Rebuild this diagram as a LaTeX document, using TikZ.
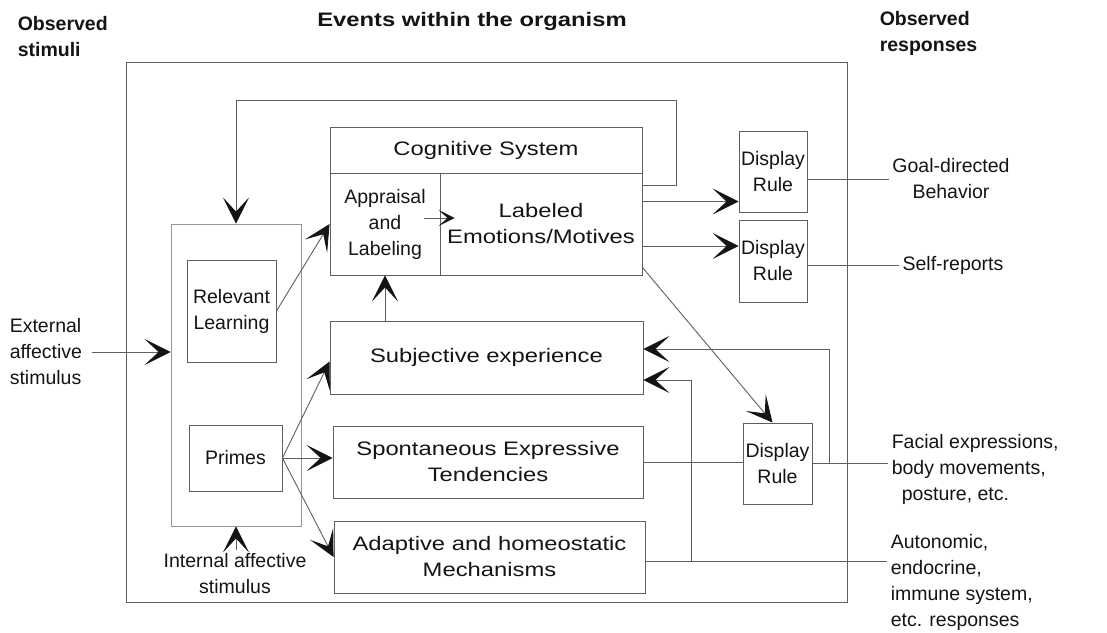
\documentclass[tikz,border=0pt]{standalone}
\usepackage{fontspec}
\setmainfont{Liberation Sans}
\usetikzlibrary{arrows.meta,positioning}
\definecolor{linegray}{RGB}{95,95,95}
\definecolor{palegray}{RGB}{150,150,150}
\definecolor{inkblack}{RGB}{20,20,20}
\newcommand{\boxfont}{\fontsize{19.5}{26}\selectfont}
\newcommand{\widefont}{\boxfont\addfontfeature{FakeStretch=1.22}}

\begin{document}
\begin{tikzpicture}[x=1pt, y=-1pt, line width=0.9pt,
  every node/.style={font=\boxfont, text=inkblack},
  blk/.style={draw=linegray, inner sep=0pt, align=center},
  wide/.style={font=\widefont},
  arr/.style={draw=linegray, -{Stealth[length=26pt,width=26pt,inset=14pt,color=inkblack]}},
  wire/.style={draw=linegray}]
  \useasboundingbox (0,0) rectangle (1107,632);
  % headings
  \node[font=\boxfont\bfseries, align=left, anchor=west] (obsstim) at (14,37) {Observed\\stimuli};
  \node[font=\widefont\bfseries] (events) at (472,21) {Events within the organism};
  \node[font=\boxfont\bfseries, align=left, anchor=west] (obsresp) at (876,33) {Observed\\responses};
  % organism frame
  \draw[linegray] (126,62) rectangle (847,602);
  % learning and primes
  \node[blk, draw=palegray, minimum width=130pt, minimum height=302pt] (learnbox) at (236,375) {};
  \node[blk, minimum width=89pt, minimum height=102pt] (relearn) at (231.5,311) {Relevant\\Learning};
  \node[blk, minimum width=93pt, minimum height=66pt] (primes) at (235.5,458) {Primes};
  % cognitive system
  \node[blk, wide, minimum width=312pt, minimum height=46pt] (cogsys) at (486,150) {Cognitive System};
  \node[blk, minimum width=110pt, minimum height=102pt] (appraisal) at (385,224) {Appraisal\\and\\Labeling};
  \node[blk, wide, minimum width=202pt, minimum height=102pt] (labeled) at (541,224) {Labeled\\Emotions/Motives};
  % lower systems
  \node[blk, wide, minimum width=313pt, minimum height=73pt] (subj) at (486.5,357.5) {Subjective experience};
  \node[blk, wide, minimum width=310pt, minimum height=72pt] (spont) at (488,462) {Spontaneous Expressive\\Tendencies};
  \node[blk, wide, minimum width=311pt, minimum height=72pt] (adapt) at (489.5,557) {Adaptive and homeostatic\\Mechanisms};
  % display rules
  \node[blk, minimum width=68pt, minimum height=81pt] (dr1) at (773,171.5) {Display\\Rule};
  \node[blk, minimum width=68pt, minimum height=82pt] (dr2) at (773,261) {Display\\Rule};
  \node[blk, minimum width=69pt, minimum height=81pt] (dr3) at (777.5,463.5) {Display\\Rule};
  % stimuli and responses
  \node[align=left, anchor=west] (extstim) at (6,352) {External\\affective\\stimulus};
  \node[align=center] (intstim) at (235,574) {Internal affective\\stimulus};
  \node[align=center] (goal) at (951,179) {Goal-directed\\Behavior};
  \node (selfrep) at (953,265) {Self-reports};
  \node[align=left, anchor=west] (facial) at (888,469) {Facial expressions,\\body movements,\\\hspace*{10pt}posture, etc.};
  \node[align=left, anchor=west] (auton) at (887,582) {Autonomic,\\endocrine,\\immune system,\\etc. responses};
  % helper points
  \coordinate (d1in) at ([yshift=-30pt]dr1.west);
  \coordinate (d2in) at ([yshift=15pt]dr2.west);
  \coordinate (fbtop) at (676,100);
  \coordinate (fb1) at ([xshift=17pt]dr3.east);
  \coordinate (adout) at ([yshift=-4pt]adapt.east);
  \coordinate (fb2) at ([xshift=46pt]adout);
  % arrows into the organism
  \draw[arr, shorten <=6pt] (extstim.east) -- (extstim -| learnbox.west);
  \draw[arr] (intstim.north -| learnbox.south) -- (learnbox.south);
  \draw[arr] (relearn.east) -- (appraisal.west);
  \draw[arr] (primes.east) -- ([yshift=-4pt]subj.west);
  \draw[arr] (primes.east) -- (primes.east -| spont.west);
  \draw[arr] (primes.east) -- (adapt.west);
  \draw[arr] (subj.north -| appraisal.south) -- (appraisal.south);
  \draw[draw=linegray, -{Stealth[length=16pt,width=16pt,inset=9pt,color=inkblack]}] ([shift={(-16,-6)}]appraisal.east) -- ([shift={(15,-6)}]labeled.west);
  % cognitive outputs
  \draw[arr] (d1in -| labeled.east) -- (d1in);
  \draw[arr] (d2in -| labeled.east) -- (d2in);
  \draw[arr] ([yshift=8pt]labeled.south east) -- ([xshift=-5pt]dr3.north);
  \draw[arr] ([yshift=-13pt]labeled.north east) -| (fbtop) -| (learnbox.north);
  % responses
  \draw[wire] (dr1.east |- goal) -- (goal.west);
  \draw[wire] (dr2.east |- selfrep) -- (selfrep.west);
  \draw[wire] (spont.east) -- (spont.east -| dr3.west);
  \draw[wire] (dr3.east) -- (dr3.east -| facial.west);
  \draw[wire] (adout) -- (adout -| auton.west);
  % feedback to experience
  \draw[arr] (fb1) |- ([yshift=8.5pt]subj.east);
  \draw[arr] (fb2) |- ([yshift=-22.5pt]subj.east);
\end{tikzpicture}
\end{document}
